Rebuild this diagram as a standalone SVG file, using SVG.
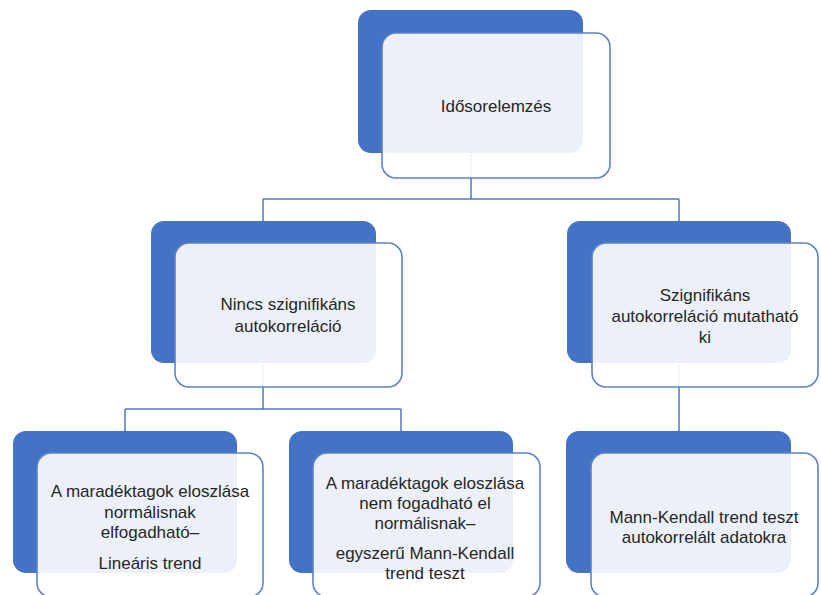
<svg xmlns="http://www.w3.org/2000/svg" width="821" height="595" viewBox="0 0 821 595">
<style>
.back{fill:#4472C4;}
.front{fill:#ffffff;fill-opacity:0.9;stroke:#5B82C8;stroke-width:1.6;}
.conn{fill:none;stroke:#4F78C2;stroke-width:1.5;}
text{font-family:"Liberation Sans",Arial,sans-serif;font-size:17px;fill:#262626;text-anchor:middle;}
</style>
<rect width="821" height="595" fill="#ffffff"/>
<g id="connectors">
<path class="conn" d="M471,153 V199 M263,199 H679 M263,199 V221 M679,199 V221"/>
<path class="conn" d="M263,363 V409 M125,409 H401 M125,409 V431 M401,409 V431"/>
<path class="conn" d="M679,363 V431"/>
</g>
<g id="n0">
<rect class="back" x="358" y="10" width="225" height="143" rx="13"/>
<rect class="front" x="382" y="33" width="228" height="145" rx="14"/>
<text x="496" y="112">Idősorelemzés</text>
</g>
<g id="n1">
<rect class="back" x="151" y="221" width="225" height="142" rx="13"/>
<rect class="front" x="175" y="243" width="227" height="144" rx="14"/>
<text x="288" y="310">Nincs szignifikáns</text>
<text x="288" y="332">autokorreláció</text>
</g>
<g id="n2">
<rect class="back" x="567" y="221" width="224" height="142" rx="13"/>
<rect class="front" x="592" y="243" width="226" height="144" rx="14"/>
<text x="705" y="301">Szignifikáns</text>
<text x="705" y="322">autokorreláció mutatható</text>
<text x="705" y="343">ki</text>
</g>
<g id="n3">
<rect class="back" x="13" y="431" width="224" height="142" rx="13"/>
<rect class="front" x="37" y="453" width="226" height="144" rx="14"/>
<text x="150" y="497">A maradéktagok eloszlása</text>
<text x="150" y="518">normálisnak</text>
<text x="150" y="538">elfogadható–</text>
<text x="150" y="569">Lineáris trend</text>
</g>
<g id="n4">
<rect class="back" x="289" y="431" width="224" height="142" rx="13"/>
<rect class="front" x="313" y="453" width="227" height="144" rx="14"/>
<text x="425" y="489">A maradéktagok eloszlása</text>
<text x="425" y="509">nem fogadható el</text>
<text x="425" y="529">normálisnak–</text>
<text x="425" y="559">egyszerű Mann-Kendall</text>
<text x="425" y="579">trend teszt</text>
</g>
<g id="n5">
<rect class="back" x="566" y="431" width="225" height="142" rx="13"/>
<rect class="front" x="591" y="453" width="227" height="144" rx="14"/>
<text x="704" y="523">Mann-Kendall trend teszt</text>
<text x="704" y="543">autokorrelált adatokra</text>
</g>
</svg>
